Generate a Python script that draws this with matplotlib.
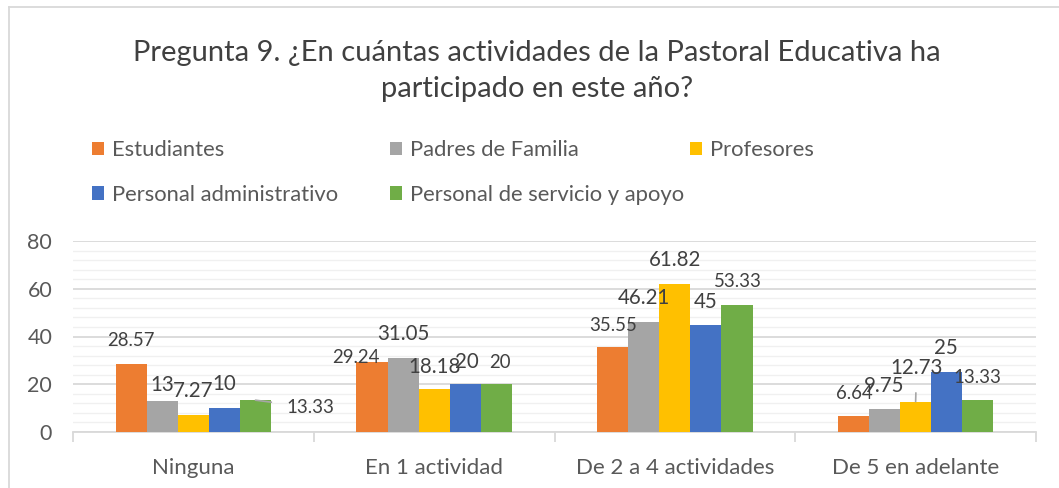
import matplotlib
matplotlib.use("Agg")
import matplotlib.pyplot as plt
import numpy as np
from matplotlib.lines import Line2D

# ---- data ----
categories = ["Ninguna", "En 1 actividad", "De 2 a 4 actividades", "De 5 en adelante"]
series_names = ["Estudiantes", "Padres de Familia", "Profesores",
                "Personal administrativo", "Personal de servicio y apoyo"]
estudiantes = [28.57, 29.24, 35.55, 6.64]
padres = [13, 31.05, 46.21, 9.75]
profesores = [7.27, 18.18, 61.82, 12.73]
administrativo = [10, 20, 45, 25]
servicio = [13.33, 20, 53.33, 13.33]
y_ticks = [0, 20, 40, 60, 80]
title = "Pregunta 9. ¿En cuántas actividades de la Pastoral Educativa ha\nparticipado en este año?"

series_values = [estudiantes, padres, profesores, administrativo, servicio]
colors = ["#ED7D31", "#A5A5A5", "#FFC000", "#4472C4", "#70AD47"]

# label styling: (dx px, dy px, big font, leader line) per series per category
label_style = [
    [(0, 23, False, False), (-16, 5, False, False), (0, 22, False, False), (1, 23, False, False)],
    [(0, 16, True, False), (0, 24, True, False), (0, 24, True, False), (0, 23, True, False)],
    [(0, 24, True, False), (0, 22, True, False), (0, 24, True, False), (1, 34, True, True)],
    [(0, 24, True, False), (2, 22, True, False), (0, 23, True, False), (-1, 24, True, False)],
    [(55, -7, False, True), (4, 22, False, False), (1, 23, False, False), (0, 23, False, False)],
]

plt.rcParams["font.family"] = ["Lato", "DejaVu Sans"]
W, H = 1059, 488
fig = plt.figure(figsize=(W / 100, H / 100), dpi=100)

ax_left, ax_right, ax_bottom, ax_top = 73, 1036, 432, 241
ax = fig.add_axes([ax_left / W, (H - ax_bottom) / H, (ax_right - ax_left) / W,
                   (ax_bottom - ax_top) / H])

x = np.arange(len(categories))
bw = 0.129
txtcol = "#595959"
for i, (name, vals, c) in enumerate(zip(series_names, series_values, colors)):
    xs = x + (i - 2) * bw
    ax.bar(xs, vals, width=bw, color=c, label=name, zorder=3, linewidth=0)
    for j, (xx, v) in enumerate(zip(xs, vals)):
        dx, dy, big, leader = label_style[i][j]
        fs = 14.8 if big else 13.4
        lbl = f"{v:g}"
        if leader:
            ax.annotate(lbl, xy=(xx, v), xytext=(dx, dy), textcoords="offset pixels",
                        ha="center", va="center", fontsize=fs, color="#404040",
                        arrowprops=dict(arrowstyle="-", color="#A6A6A6", lw=1.2,
                                        shrinkA=9, shrinkB=0), zorder=5)
        else:
            ax.annotate(lbl, xy=(xx, v), xytext=(dx, dy), textcoords="offset pixels",
                        ha="center", va="center", fontsize=fs, color="#404040", zorder=5)

ax.set_xlim(-0.5, len(categories) - 0.5)
ax.set_ylim(0, 80)
ax.set_yticks(y_ticks)
ax.set_yticks(np.arange(0, 81, 4), minor=True)
ax.yaxis.grid(True, which="major", color="#D9D9D9", lw=1.3, zorder=0)
ax.yaxis.grid(True, which="minor", color="#F0F0F0", lw=1.0, zorder=0)
ax.tick_params(axis="y", which="both", length=0, labelsize=15.5, labelcolor=txtcol, pad=15)
ax.set_xticks(x)
ax.set_xticklabels(categories)
ax.set_xticks(np.arange(-0.5, len(categories)), minor=True)
ax.tick_params(axis="x", which="major", length=0, labelsize=16, labelcolor=txtcol, pad=19)
ax.tick_params(axis="x", which="minor", length=7, color="#D9D9D9", width=1.3)
for s in ["top", "right", "left"]:
    ax.spines[s].set_visible(False)
ax.spines["bottom"].set_color("#D9D9D9")
ax.spines["bottom"].set_linewidth(1.3)
ax.set_axisbelow(True)

fig.text(537 / W, 1 - 71 / H, title, ha="center", va="center", fontsize=21,
         color="#404040", linespacing=1.5)

handles, labels = ax.get_legend_handles_labels()
cols = [[0, 3], [1, 4], [2]]
col_x = [92, 390, 690]
for cx, idx in zip(col_x, cols):
    fig.legend([handles[k] for k in idx], [labels[k] for k in idx],
               loc="upper left", bbox_to_anchor=(cx / W, 1 - 140 / H),
               frameon=False, fontsize=15.8, labelcolor=txtcol,
               handlelength=0.55, handleheight=0.55, handletextpad=0.35,
               labelspacing=1.13, borderpad=0, borderaxespad=0)

# chart border
fig.add_artist(Line2D([9 / W, 1], [1 - 7 / H, 1 - 7 / H], color="#D9D9D9", lw=1.3,
                      transform=fig.transFigure))
fig.add_artist(Line2D([9 / W, 9 / W], [0, 1 - 7 / H], color="#D9D9D9", lw=1.3,
                      transform=fig.transFigure))

fig.savefig("out.png", dpi=100, facecolor="white")
